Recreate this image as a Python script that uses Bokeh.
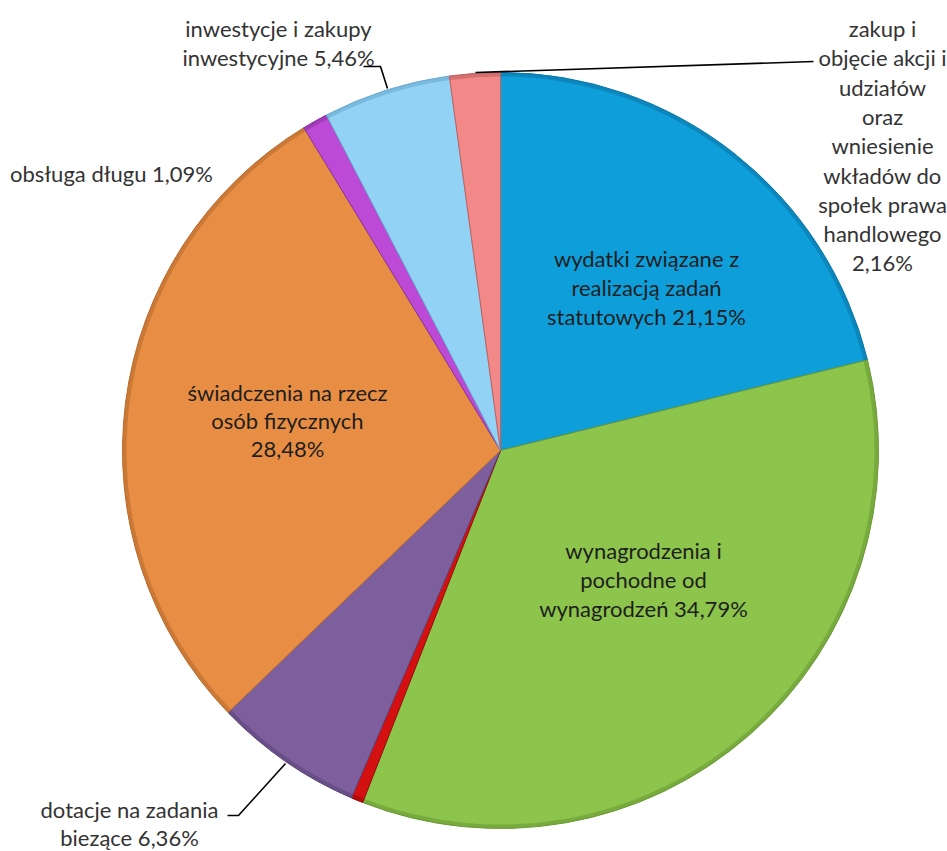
import math
from bokeh.plotting import figure
from bokeh.models import Range1d
from bokeh.embed import file_html
from bokeh.resources import INLINE
from bokeh.core.properties import value

# ---- data (clockwise from 12 o'clock) ----
categories = [
    "wydatki związane z realizacją zadań statutowych",
    "wynagrodzenia i pochodne od wynagrodzeń",
    "pozostałe",
    "dotacje na zadania biezące",
    "świadczenia na rzecz osób fizycznych",
    "obsługa długu",
    "inwestycje i zakupy inwestycyjne",
    "zakup i objęcie akcji i udziałów oraz wniesienie wkładów do społek prawa handlowego",
]
shares = [21.15, 34.79, 0.51, 6.36, 28.48, 1.09, 5.46, 2.16]
colors = ["#0E9FDB", "#8CC44C", "#D41010", "#7E5F9E", "#E88E44", "#BC4AD6", "#92D2F5", "#F28888"]
rims = ["#0A78A8", "#6A9A35", "#9A0A0A", "#5C4478", "#B86A2E", "#8A32A0", "#6AAAD0", "#C06060"]
label_lines = [
    ["wydatki związane z", "realizacją zadań", "statutowych {p}"],
    ["wynagrodzenia i", "pochodne od", "wynagrodzeń {p}"],
    [],
    ["dotacje na zadania", "biezące {p}"],
    ["świadczenia na rzecz", "osób fizycznych", "{p}"],
    ["obsługa długu {p}"],
    ["inwestycje i zakupy", "inwestycyjne {p}"],
    ["zakup i", "objęcie akcji i", "udziałów", "oraz", "wniesienie",
     "wkładów do", "społek prawa", "handlowego", "{p}"],
]

# ---- layout (reference pixel coordinates; y grows downwards) ----
CX, CY, R = 500, 450, 378
label_anchor = [(646, 258), (643, 550), None, (129, 809), (287, 392),
                (111, 173), (278, 28), (882, 28)]
line_step = [29, 29, 0, 28, 28, 0, 29, 29.3]
leaders = [
    [(363, 66), (380, 66), (387, 88)],
    [(475, 72), (813, 61)],
    [(227, 815), (238, 815), (285, 763)],
]

W, H = 947, 851
p = figure(width=W, height=H, output_backend="svg", toolbar_location=None,
           x_range=Range1d(0, W), y_range=Range1d(-H, 0),
           min_border=0)
p.axis.visible = False
p.grid.visible = False
p.outline_line_color = None
p.background_fill_color = "white"
p.border_fill_color = "white"

total = sum(shares)
cum = 0.0
for v, c, rc in zip(shares, colors, rims):
    a0 = math.pi / 2 - cum / total * 2 * math.pi
    cum += v
    a1 = math.pi / 2 - cum / total * 2 * math.pi
    p.wedge(x=CX, y=-CY, radius=R, start_angle=a0, end_angle=a1, direction="clock",
            fill_color=c, line_color=rc, line_width=1)
    p.annular_wedge(x=CX, y=-CY, inner_radius=R - 4, outer_radius=R,
                    start_angle=a0, end_angle=a1, direction="clock",
                    fill_color=rc, fill_alpha=0.6, line_color=None)

font = value("Lato")
for i, lines in enumerate(label_lines):
    if not lines:
        continue
    pct = f"{shares[i]:.2f}".replace(".", ",") + "%"
    ax, ay = label_anchor[i]
    inside = i in (0, 1, 4)
    for k, ln in enumerate(lines):
        p.text(x=[ax], y=[-(ay + k * line_step[i])], text=[ln.replace("{p}", pct)],
               text_font=font, text_font_size="22px",
               text_color="#1E1E1E" if inside else "#333333",
               text_align="center", text_baseline="middle")

for pts in leaders:
    p.line(x=[q[0] for q in pts], y=[-q[1] for q in pts], line_color="black", line_width=1.6)

open("out.html", "w").write(file_html(p, INLINE))
